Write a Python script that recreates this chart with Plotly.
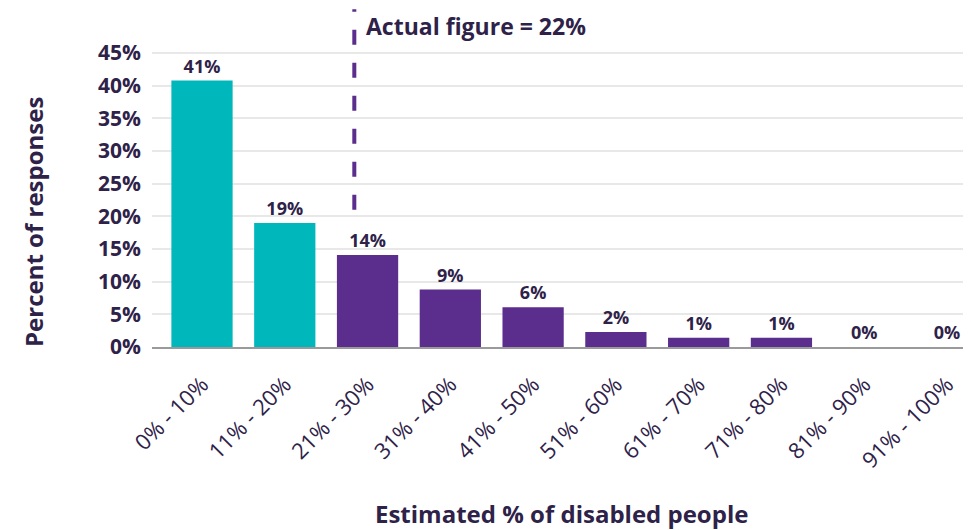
import plotly.graph_objects as go

categories = ["0% - 10%", "11% - 20%", "21% - 30%", "31% - 40%", "41% - 50%",
              "51% - 60%", "61% - 70%", "71% - 80%", "81% - 90%", "91% - 100%"]
values = [40.8, 19.0, 14.1, 8.8, 6.1, 2.3, 1.4, 1.4, 0.0, 0.0]
labels = ["41%", "19%", "14%", "9%", "6%", "2%", "1%", "1%", "0%", "0%"]
bar_colors = ["#00B8BC", "#00B8BC"] + ["#5B2D8C"] * 8
y_ticks = [0, 5, 10, 15, 20, 25, 30, 35, 40, 45]
y_tick_labels = [f"{t}%" for t in y_ticks]
actual_position = 1.84   # category-axis position of the "actual figure" marker (22%)
actual_label = "Actual figure = 22%"
x_title = "Estimated % of disabled people"
y_title = "Percent of responses"

TXT = "#2E2249"
FONT = "Open Sans"

# page body has an 8px margin, so figure coords = page coords - 8
OFF = 8
L, R, T, B = 144, 8, 0, 191
W, H = 971, 530
PW, PH = W - L - R, H - T - B

def px(xp):  # page x -> paper fraction
    return (xp - OFF - L) / PW

def py(yp):  # page y -> paper fraction
    return (H - B - (yp - OFF)) / PH

fig = go.Figure()
fig.add_trace(go.Bar(
    x=list(range(len(categories))), y=values,
    marker=dict(color=bar_colors, line=dict(width=0)),
    text=labels, textposition="outside", cliponaxis=False,
    textfont=dict(family=FONT, size=18, color=TXT, weight="bold"),
    width=0.74,
))

fig.add_shape(type="line", x0=actual_position, x1=actual_position, y0=21.0, y1=51.7,
              xref="x", yref="y",
              line=dict(color="#5B2D8C", width=4, dash="15px,18px"))

fig.add_annotation(x=actual_position, y=0, xref="x", yref="paper", text=actual_label,
                   showarrow=False, xanchor="left", xshift=10, yanchor="top",
                   yshift=PH, font=dict(family=FONT, size=23, color=TXT, weight="bold"))

fig.add_annotation(x=px(33), y=py(222), xref="paper", yref="paper",
                   text=y_title, showarrow=False, textangle=-90,
                   xanchor="center", yanchor="middle",
                   font=dict(family=FONT, size=24, color=TXT, weight="bold"))

fig.add_annotation(x=px(561), y=py(513), xref="paper", yref="paper",
                   text=x_title, showarrow=False,
                   xanchor="center", yanchor="middle",
                   font=dict(family=FONT, size=24, color=TXT, weight="bold"))

fig.update_layout(
    width=W, height=H,
    margin=dict(l=L, r=R, t=T, b=B, autoexpand=False),
    paper_bgcolor="white", plot_bgcolor="white",
    showlegend=False,
    xaxis=dict(
        range=[-0.604, 9.29], automargin=False,
        tickmode="array", tickvals=list(range(len(categories))), ticktext=categories,
        tickangle=-45, ticks="outside", ticklen=14, tickcolor="rgba(0,0,0,0)",
        tickfont=dict(family=FONT, size=22, color=TXT),
        showgrid=False, showline=True, linecolor="#9A9A9A", linewidth=2,
        zeroline=False,
    ),
    yaxis=dict(
        range=[0, 51.9], automargin=False,
        tickmode="array", tickvals=y_ticks, ticktext=y_tick_labels,
        tickfont=dict(family=FONT, size=21, color=TXT, weight="bold"),
        showgrid=True, gridcolor="#E8E8E8", gridwidth=2,
        zeroline=False, showline=False, ticklabelstandoff=10,
    ),
)

fig.write_html("out.html")
